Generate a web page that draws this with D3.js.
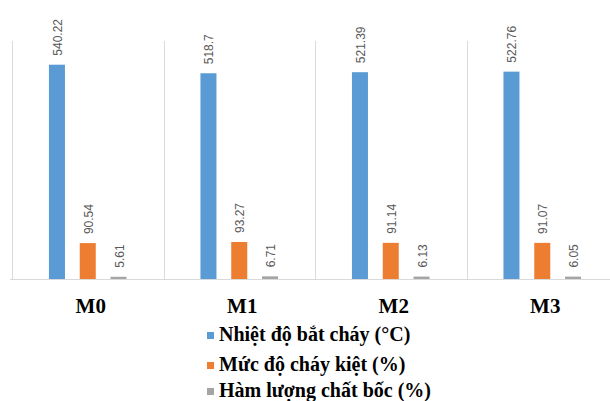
<!DOCTYPE html>
<html>
<head>
<meta charset="utf-8">
<script src="https://cdn.jsdelivr.net/npm/d3@7"></script>
<style>
  html, body { margin: 0; padding: 0; background: #fff; }
  svg { display: block; }
</style>
</head>
<body>
<div id="chart"></div>
<script>
// ---- data
const categories = ['M0', 'M1', 'M2', 'M3'];
const seriesNames = ['Nhiệt độ bắt cháy (°C)', 'Mức độ cháy kiệt (%)', 'Hàm lượng chất bốc (%)'];
const ignitionTemp = [540.22, 518.7, 521.39, 522.76];
const burnout      = [90.54, 93.27, 91.14, 91.07];
const volatiles    = [5.61, 6.71, 6.13, 6.05];
const labelText    = [
  ['540.22', '518.7', '521.39', '522.76'],
  ['90.54', '93.27', '91.14', '91.07'],
  ['5.61', '6.71', '6.13', '6.05']
];
const colors = ['#5b9bd5', '#ed7d31', '#a5a5a5'];

const W = 610, H = 401;
const plot = { left: 12, right: 618, top: 41, bottom: 279 };

const svg = d3.select('#chart').append('svg')
  .attr('width', W).attr('height', H);

const x0 = d3.scaleBand(categories, [plot.left, plot.right]);
const x1 = d3.scaleBand(d3.range(3), [0, x0.bandwidth()])
  .paddingInner(0.48).paddingOuter(1.2);
const y = d3.scaleLinear([0, 600], [plot.bottom, plot.top]);

// separators between categories
svg.append('g')
  .selectAll('line')
  .data(categories)
  .join('line')
    .attr('x1', d => Math.round(x0(d)) + 0.5)
    .attr('x2', d => Math.round(x0(d)) + 0.5)
    .attr('y1', plot.top)
    .attr('y2', plot.bottom)
    .attr('stroke', '#d9d9d9')
    .attr('stroke-width', 1);

const values = [ignitionTemp, burnout, volatiles];
const rows = [];
categories.forEach((c, i) => {
  values.forEach((vals, s) => rows.push({ cat: c, s, v: vals[i], label: labelText[s][i] }));
});

// bars
svg.append('g')
  .selectAll('rect')
  .data(rows)
  .join('rect')
    .attr('x', d => x0(d.cat) + x1(d.s))
    .attr('y', d => y(d.v))
    .attr('width', x1.bandwidth())
    .attr('height', d => y(0) - y(d.v))
    .attr('fill', d => colors[d.s]);

// baseline
svg.append('line')
  .attr('x1', 10).attr('x2', W)
  .attr('y1', plot.bottom + 0.5).attr('y2', plot.bottom + 0.5)
  .attr('stroke', '#d9d9d9');

// data labels (rotated)
svg.append('g')
  .selectAll('text')
  .data(rows)
  .join('text')
    .attr('transform', d => {
      const cx = x0(d.cat) + x1(d.s) + x1.bandwidth() / 2 + 5;
      return `translate(${cx},${y(d.v) - 9}) rotate(-90)`;
    })
    .attr('font-family', 'Liberation Sans, Arial, sans-serif')
    .attr('font-size', 12)
    .attr('fill', '#595959')
    .text(d => d.label);

// category labels
svg.append('g')
  .selectAll('text')
  .data(categories)
  .join('text')
    .attr('x', d => x0(d) + x0.bandwidth() / 2 + 3)
    .attr('y', 313)
    .attr('text-anchor', 'middle')
    .attr('font-family', 'Liberation Serif, Times New Roman, serif')
    .attr('font-weight', 'bold')
    .attr('font-size', 21)
    .attr('fill', '#000')
    .text(d => d);

// legend
const legendY = [335, 365, 391];
const lg = svg.append('g')
  .selectAll('g')
  .data(seriesNames)
  .join('g')
    .attr('transform', (d, i) => `translate(207,${legendY[i]})`);

lg.append('rect')
  .attr('x', 0).attr('y', -3)
  .attr('width', 7).attr('height', 7)
  .attr('fill', (d, i) => colors[i]);

lg.append('text')
  .attr('x', 12)
  .attr('y', 6)
  .attr('font-family', 'Liberation Serif, Times New Roman, serif')
  .attr('font-weight', 'bold')
  .attr('font-size', 20)
  .attr('fill', '#000')
  .text(d => d);
</script>
</body>
</html>
